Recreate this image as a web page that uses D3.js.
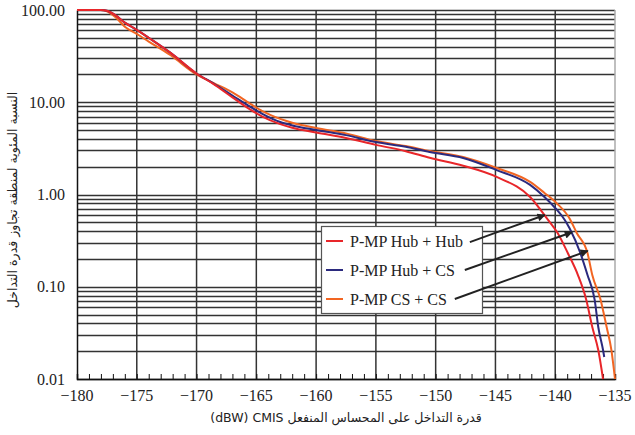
<!DOCTYPE html>
<html><head><meta charset="utf-8">
<script src="https://cdn.jsdelivr.net/npm/d3@7"></script>
<style>body{margin:0;background:#fff;} svg{display:block;}</style>
</head><body><svg id="c" width="635" height="435"></svg>
<script>
const xTicks = [-180,-175,-170,-165,-160,-155,-150,-145,-140,-135];
const xTickLabels = ["\u2212180","\u2212175","\u2212170","\u2212165","\u2212160","\u2212155","\u2212150","\u2212145","\u2212140","\u2212135"];
const yTicks = [100,10,1,0.1,0.01];
const yTickLabels = ["100.00","10.00","1.00","0.10","0.01"];
const seriesNames = ["P-MP Hub + Hub","P-MP Hub + CS","P-MP CS + CS"];
const seriesColors = ["#e8262a","#2b2a7e","#f26522"];
const hubHubX = [-180,-178,-177.5,-176.8,-176,-175,-174,-172.2,-170,-168.6,-167,-165.5,-164.5,-163,-162,-160,-157.5,-155,-152.5,-150.5,-147.7,-144.9,-142.1,-140.6,-139.8,-138.95,-138.1,-137.4,-136.9,-136.4,-136.0];
const hubHubY = [100,100,98,88,73,61,50,34.5,20.5,15.8,11.3,8.3,7.0,5.8,5.3,4.7,4.1,3.45,2.95,2.5,2.05,1.55,0.94,0.53,0.383,0.232,0.134,0.072,0.0366,0.0206,0.01];
const hubCsX = [-180,-178,-177.5,-176.8,-176,-175,-174,-172.2,-170,-168.6,-167,-165.5,-164.5,-163,-162,-160,-157.5,-155,-152.5,-150.5,-147.7,-144.9,-142.1,-140.9,-140.0,-139.2,-138.8,-137.9,-137.3,-136.7,-136.4,-136.0,-135.9];
const hubCsY = [100,100,98,88,73,61,50,34.5,20.5,16,11.8,8.9,7.5,6.1,5.6,5.0,4.4,3.7,3.3,2.89,2.49,1.84,1.27,0.94,0.714,0.53,0.43,0.232,0.134,0.072,0.0366,0.0206,0.0173];
const csCsX = [-180,-178,-177.5,-176.8,-176,-175,-174,-172.2,-170,-168.6,-167,-165.5,-164.5,-163,-162,-160,-157.5,-155,-152.5,-150.5,-147.7,-144.9,-142.1,-140.9,-139.9,-138.8,-138.2,-137.3,-136.9,-136.2,-135.7,-135.3,-135.0];
const csCsY = [100,100,97,84,66,55,45.5,32.5,20,16.2,12.8,9.6,8.0,6.6,6.0,5.26,4.6,3.8,3.35,2.96,2.55,1.94,1.37,1.04,0.81,0.55,0.383,0.232,0.134,0.072,0.0366,0.0206,0.01];
// arrows: [startX, startY, endX, endY] in data units
const arrowsData = [[-147.14,0.305,-140.87,0.60],[-147.56,0.152,-138.6,0.39],[-148.4,0.0737,-137.27,0.245]];
const xTitle = "(dBW) CMIS قدرة التداخل على المحساس المنفعل";
const yTitle = "النسبة المئوية لمنطقة تجاوز قدرة التداخل";

const svg = d3.select("#c");
const L=77,R=615,T=10,B=379;
const x = d3.scaleLinear().domain([-180,-135]).range([L,R]);
const y = d3.scaleLog().domain([0.01,100]).range([B,T]);
const font = "'Liberation Serif','Times New Roman',serif";
const arFont = "'DejaVu Sans','Noto Sans',sans-serif";

// horizontal grid
const hGrid = [];
[0.01,0.1,1,10].forEach(d=>{for(let k=1;k<10;k++) hGrid.push(d*k);});
hGrid.push(100);
svg.append("g").selectAll("line").data(hGrid).join("line")
  .attr("x1",L).attr("x2",R).attr("y1",d=>Math.round(y(d))+0.5).attr("y2",d=>Math.round(y(d))+0.5)
  .attr("stroke","#333").attr("stroke-width",1.3);
// vertical grid
svg.append("g").selectAll("line").data(xTicks.slice(1,-1)).join("line")
  .attr("x1",d=>x(d)).attr("x2",d=>x(d)).attr("y1",T).attr("y2",B)
  .attr("stroke","#333").attr("stroke-width",1.5);
svg.append("line").attr("x1",R).attr("x2",R).attr("y1",T).attr("y2",B).attr("stroke","#aaa").attr("stroke-width",1.5);

// axes
const xAxis = d3.axisBottom(x).tickValues(d3.range(-180,-134,1)).tickSize(-5).tickFormat("");
const gx = svg.append("g").attr("transform",`translate(0,${B})`).call(xAxis);
gx.select(".domain").attr("stroke","#111").attr("stroke-width",1.5);
gx.selectAll(".tick line").attr("stroke","#111").attr("stroke-width",1);
svg.append("g").selectAll("text").data(xTicks).join("text")
  .attr("x",d=>x(d)).attr("y",B+22).attr("text-anchor","middle")
  .style("font-family",font).style("font-size","16px").attr("fill","#222")
  .text((d,i)=>xTickLabels[i]);

const yAxis = d3.axisLeft(y).tickValues(yTicks).tickSize(0).tickFormat((d,i)=>yTickLabels[i]).tickPadding(12);
const gy = svg.append("g").attr("transform",`translate(${L},0)`).call(yAxis);
gy.select(".domain").attr("stroke","#111").attr("stroke-width",1.5);
gy.selectAll("text").style("font-family",font).style("font-size","16px").attr("fill","#222");

// titles
svg.append("text").attr("x",(L+R)/2).attr("y",422).attr("text-anchor","middle")
  .style("font-family",arFont).style("font-size","12.5px").attr("fill","#222").text(xTitle);
svg.append("text").attr("transform","translate(17,200) rotate(-90)").attr("text-anchor","middle")
  .attr("direction","rtl").style("direction","rtl")
  .style("font-family",arFont).style("font-size","12.5px").attr("fill","#222").text(yTitle);

// lines
const line = d3.line().x(d=>x(d[0])).y(d=>y(d[1])).curve(d3.curveMonotoneX);
const series = [[hubHubX,hubHubY],[hubCsX,hubCsY],[csCsX,csCsY]];
[2,1,0].forEach(i=>{
  const pts = series[i][0].map((v,j)=>[v,series[i][1][j]]);
  svg.append("path").datum(pts).attr("d",line).attr("fill","none")
    .attr("stroke",seriesColors[i]).attr("stroke-width",2);
});

// legend
const lg = svg.append("g");
lg.append("rect").attr("x",321.5).attr("y",226.5).attr("width",161).attr("height",87)
  .attr("fill","#fff").attr("stroke","#555").attr("stroke-width",1.2);
seriesNames.forEach((n,i)=>{
  const yy = 241 + i*29;
  lg.append("line").attr("x1",326).attr("x2",343).attr("y1",yy).attr("y2",yy)
    .attr("stroke",seriesColors[i]).attr("stroke-width",2);
  lg.append("text").attr("x",350).attr("y",yy+5.5).style("font-family",font).style("font-size","16px")
    .attr("fill","#222").text(n);
});

// arrows
svg.append("defs").append("marker").attr("id","ah").attr("viewBox","0 0 10 10")
  .attr("refX",9).attr("refY",5).attr("markerWidth",10).attr("markerHeight",8)
  .attr("markerUnits","userSpaceOnUse").attr("orient","auto")
  .append("path").attr("d","M0,0L10,5L0,10z").attr("fill","#222");
svg.append("g").selectAll("line").data(arrowsData).join("line")
  .attr("x1",d=>x(d[0])).attr("y1",d=>y(d[1])).attr("x2",d=>x(d[2])).attr("y2",d=>y(d[3]))
  .attr("stroke","#222").attr("stroke-width",2).attr("marker-end","url(#ah)");
</script></body></html>
